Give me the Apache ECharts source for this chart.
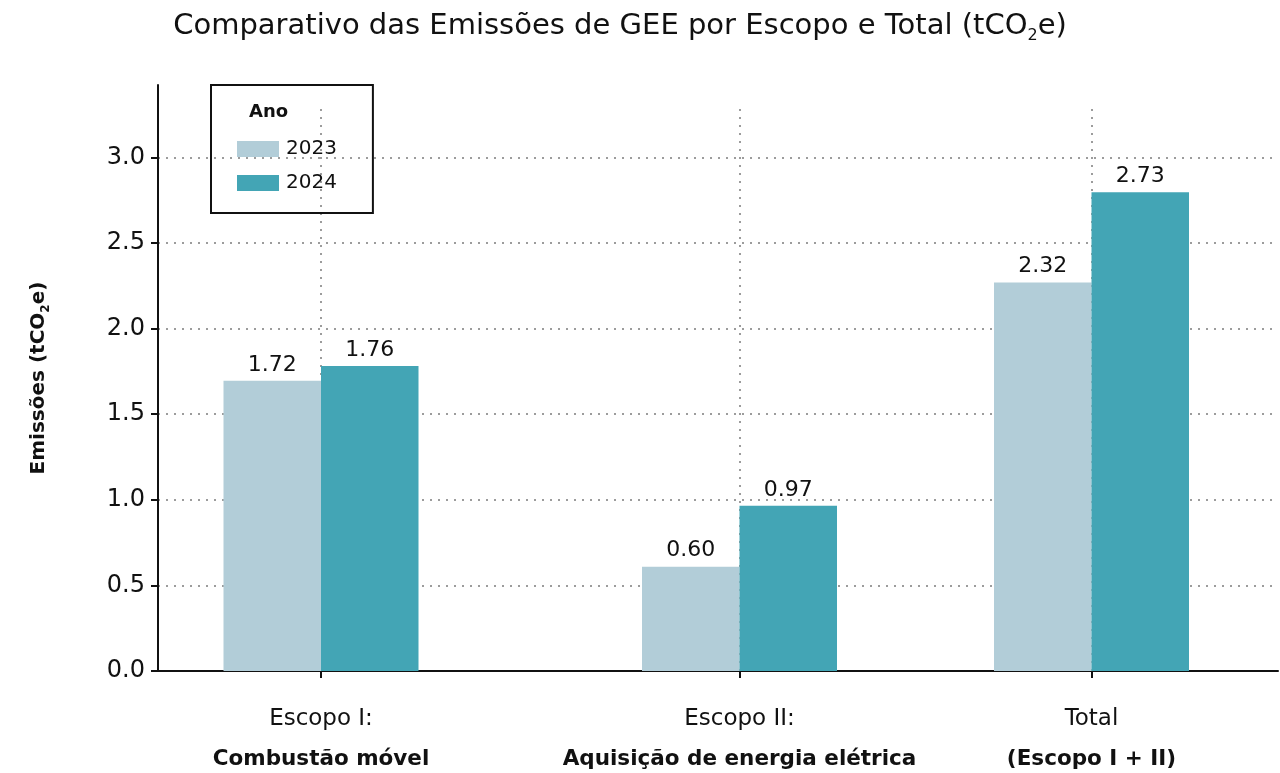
<!DOCTYPE html>
<html>
<head>
<meta charset="utf-8">
<script src="https://cdn.jsdelivr.net/npm/echarts@6/dist/echarts.min.js"></script>
<style>
  html, body { margin: 0; padding: 0; background: #fff; }
  #chart { width: 1280px; height: 773px; }
</style>
</head>
<body>
<div id="chart"></div>
<script>
// categories (top line / bold line of each x label)
const catTop = ['Escopo I:', 'Escopo II:', 'Total']
const catBottom = ['Combustão móvel', 'Aquisição de energia elétrica', '(Escopo I + II)']

// series values (bar heights as drawn) and the printed labels
const years = ['2023', '2024']
const values2023 = [1.695, 0.609, 2.27]
const values2024 = [1.782, 0.965, 2.796]
const labels2023 = ['1.72', '0.60', '2.32']
const labels2024 = ['1.76', '0.97', '2.73']

// y tick labels
const yTicks = [0, 0.5, 1.0, 1.5, 2.0, 2.5, 3.0]

// layout: uneven category positions along the x axis
const catPos = [163, 581.5, 933.5]
const xMax = 1120
const yMax = 3.423
const vLineTop = 3.3

const FONT = 'DejaVu Sans'
const colors = ['#b2cdd8', '#43a5b5']
const dotted = { color: '#9c9c9c', width: 2, type: [2, 6] }

const chart = echarts.init(document.getElementById('chart'))

function barData(vals) {
  return vals.map((v, i) => [catPos[i], v])
}

function barLabel(texts) {
  return {
    show: true,
    position: 'top',
    distance: 5,
    fontFamily: FONT,
    fontSize: 22,
    color: '#111',
    formatter: (p) => texts[p.dataIndex],
  }
}

const option = {
  animation: false,
  textStyle: { fontFamily: FONT },
  title: {
    text: '{a|Comparativo das Emissões de GEE por Escopo e Total (tCO}{s|2}{a|e)}',
    left: 615,
    top: 3,
    textAlign: 'center',
    textStyle: {
      rich: {
        a: { fontFamily: FONT, fontSize: 29, fontWeight: 'normal', color: '#111', lineHeight: 36 },
        s: { fontFamily: FONT, fontSize: 16, fontWeight: 'normal', color: '#111', lineHeight: 36, verticalAlign: 'bottom' },
      },
    },
  },
  legend: {
    orient: 'vertical',
    left: 211,
    top: 85,
    borderColor: '#111',
    borderWidth: 2,
    padding: [54, 36, 20, 26],
    itemWidth: 42,
    itemHeight: 16,
    itemGap: 14,
    icon: 'rect',
    textStyle: { fontFamily: FONT, fontSize: 20, color: '#111', padding: [0, 0, 0, 2] },
    data: years,
  },
  graphic: [
    {
      type: 'text',
      left: 249,
      top: 103,
      style: { text: 'Ano', fontFamily: FONT, fontSize: 18, fontWeight: 'bold', fill: '#111' },
    },
  ],
  grid: {
    left: 158,
    right: 2,
    top: 85,
    bottom: 102,
    containLabel: false,
  },
  xAxis: {
    type: 'value',
    min: 0,
    max: xMax,
    splitLine: { show: false },
    axisLine: { onZero: false, lineStyle: { color: '#111', width: 2 } },
    axisTick: {
      customValues: catPos,
      length: 7,
      lineStyle: { color: '#111', width: 2 },
    },
    axisLabel: {
      customValues: catPos,
      margin: 28,
      formatter: (v) => {
        const i = catPos.indexOf(v)
        return '{t|' + catTop[i] + '}\n{b|' + catBottom[i] + '}'
      },
      rich: {
        t: { fontFamily: FONT, fontSize: 23, color: '#111', lineHeight: 40 },
        b: { fontFamily: FONT, fontSize: 21.5, fontWeight: 'bold', color: '#111', lineHeight: 40 },
      },
    },
  },
  yAxis: {
    type: 'value',
    min: 0,
    max: yMax,
    interval: 0.5,
    name: '{a|Emissões (tCO}{s|2}{a|e)}',
    nameLocation: 'middle',
    nameGap: 106,
    nameRotate: 90,
    nameTextStyle: {
      rich: {
        a: { fontFamily: FONT, fontSize: 20, fontWeight: 'bold', color: '#111', lineHeight: 26 },
        s: { fontFamily: FONT, fontSize: 12, fontWeight: 'bold', color: '#111', lineHeight: 26, verticalAlign: 'bottom' },
      },
    },
    axisLine: { show: true, lineStyle: { color: '#111', width: 2 } },
    axisTick: {
      show: true,
      customValues: yTicks,
      length: 7,
      lineStyle: { color: '#111', width: 2 },
    },
    axisLabel: {
      customValues: yTicks,
      margin: 13,
      fontFamily: FONT,
      fontSize: 24,
      color: '#111',
      formatter: (v) => v.toFixed(1),
    },
    splitLine: { show: true, showMinLine: false, showMaxLine: true, lineStyle: dotted },
  },
  series: [
    {
      name: years[0],
      type: 'bar',
      barWidth: 97.5,
      barGap: '0%',
      z: 3,
      itemStyle: { color: colors[0] },
      label: barLabel(labels2023),
      data: barData(values2023),
    },
    {
      name: years[1],
      type: 'bar',
      barWidth: 97.5,
      barGap: '0%',
      z: 3,
      itemStyle: { color: colors[1] },
      label: barLabel(labels2024),
      data: barData(values2024),
    },
    // vertical dotted guides at each category
    {
      type: 'line',
      data: [],
      z: 1,
      markLine: {
        silent: true,
        symbol: 'none',
        z: 1,
        label: { show: false },
        lineStyle: dotted,
        data: catPos.map((x) => [{ coord: [x, 0] }, { coord: [x, vLineTop] }]),
      },
    },
  ],
}

chart.setOption(option)
</script>
</body>
</html>
